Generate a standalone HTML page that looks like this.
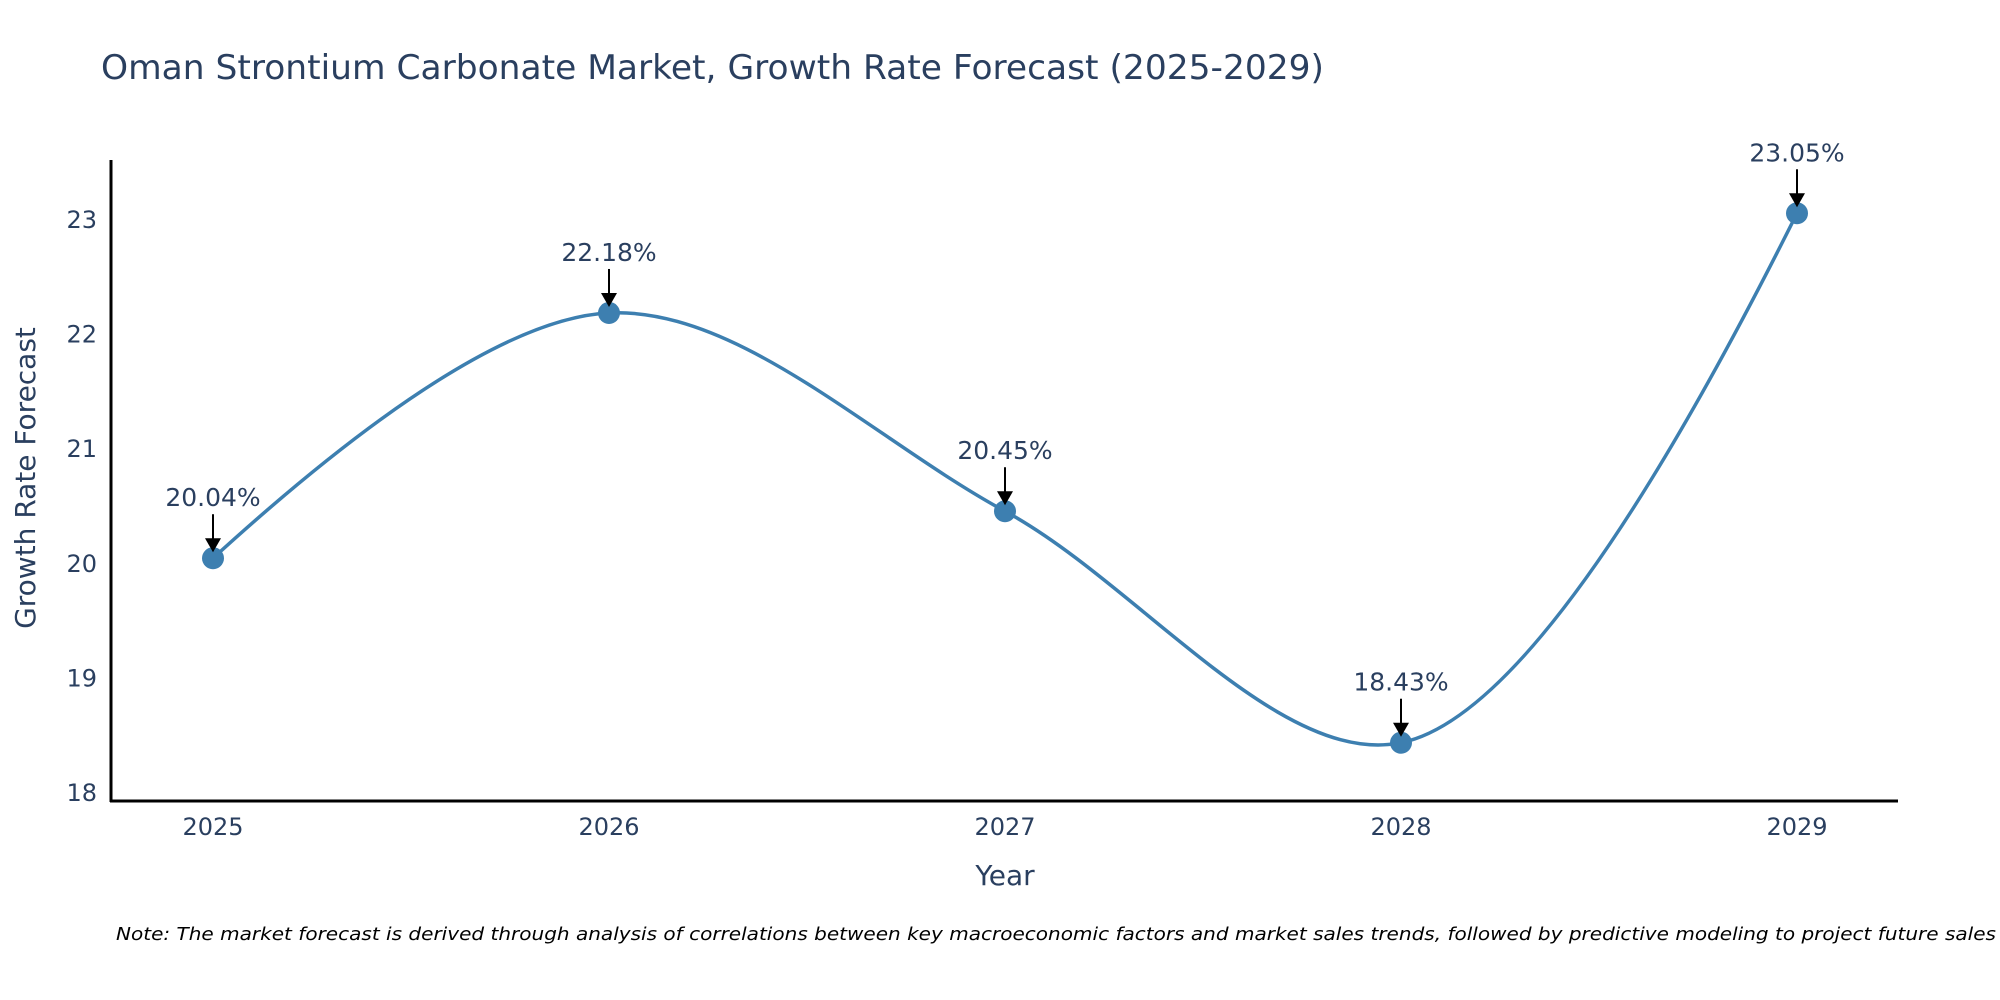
<!DOCTYPE html>
<html><head><meta charset="utf-8"><style>
html,body{margin:0;padding:0;background:#fff;}
svg{display:block;font-family:"DejaVu Sans","Liberation Sans",sans-serif;}
</style></head><body>
<svg id="chart" width="2000" height="1000" viewBox="0 0 2000 1000" xmlns="http://www.w3.org/2000/svg">
<text x="101" y="79" font-size="34" fill="#2a3f5f" textLength="1223" lengthAdjust="spacingAndGlyphs">Oman Strontium Carbonate Market, Growth Rate Forecast (2025-2029)</text>
<g id="yticks"></g>
<g id="xticks"></g>
<line x1="111" y1="160" x2="111" y2="802" stroke="#000" stroke-width="3"/>
<line x1="110" y1="801" x2="1898" y2="801" stroke="#000" stroke-width="3"/>
<text x="1005" y="885" font-size="28" fill="#2a3f5f" text-anchor="middle">Year</text>
<text x="0" y="0" font-size="28" fill="#2a3f5f" text-anchor="middle" transform="translate(35,478) rotate(-90)">Growth Rate Forecast</text>
<path id="line" fill="none" stroke="#3d7fb0" stroke-width="3.5"/>
<g id="marks"></g>
<text x="116" y="940" font-size="18" font-style="italic" fill="#000" textLength="1880" lengthAdjust="spacingAndGlyphs">Note: The market forecast is derived through analysis of correlations between key macroeconomic factors and market sales trends, followed by predictive modeling to project future sales</text>
</svg>
<script>
const years = [2025, 2026, 2027, 2028, 2029];
const growth = [20.04, 22.18, 20.45, 18.43, 23.05];
const labels = ["20.04%", "22.18%", "20.45%", "18.43%", "23.05%"];
const yTicks = [18, 19, 20, 21, 22, 23];

const NS = "http://www.w3.org/2000/svg";
function xs(v){ return 213 + (v - 2025) * 396; }
function ys(v){ return 792 - (v - 18) * 114.6; }
function mk(tag, attrs, parent){ const e=document.createElementNS(NS,tag); for(const k in attrs) e.setAttribute(k,attrs[k]); parent.appendChild(e); return e; }

const yg=document.getElementById('yticks');
yTicks.forEach(t=>{
  const e=mk('text',{x:97,y:ys(t)+9,'font-size':24,fill:'#2a3f5f','text-anchor':'end'},yg);
  e.textContent=t;
  
  
});
const xg=document.getElementById('xticks');
years.forEach(y=>{
  const e=mk('text',{x:xs(y),y:835,'font-size':24,fill:'#2a3f5f','text-anchor':'middle'},xg);
  e.textContent=y;
  
  
});

const pts = years.map((y,i)=>[xs(y), ys(growth[i])]);
function tangent(p,t,n,s){
  const d1x=p[0]-t[0],d1y=p[1]-t[1],d2x=n[0]-t[0],d2y=n[1]-t[1];
  const d1a=Math.pow(d1x*d1x+d1y*d1y,0.25),d2a=Math.pow(d2x*d2x+d2y*d2y,0.25);
  const nx=(d2a*d2a*d1x-d1a*d1a*d2x)*s,ny=(d2a*d2a*d1y-d1a*d1a*d2y)*s;
  const a=3*d2a*(d1a+d2a),b=3*d1a*(d1a+d2a);
  return [[t[0]+nx/a,t[1]+ny/a],[t[0]-nx/b,t[1]-ny/b]];
}
const tg=[];
for(let i=1;i<pts.length-1;i++) tg.push(tangent(pts[i-1],pts[i],pts[i+1],1));
let d='M'+pts[0]+'Q'+tg[0][0]+' '+pts[1];
for(let i=2;i<pts.length-1;i++) d+='C'+tg[i-2][1]+' '+tg[i-1][0]+' '+pts[i];
d+='Q'+tg[pts.length-3][1]+' '+pts[pts.length-1];
document.getElementById('line').setAttribute('d',d);

const mg=document.getElementById('marks');
pts.forEach((p,i)=>{
  const c=mk('circle',{cx:p[0],cy:p[1],r:11,fill:'#3d7fb0'},mg);
  
  
  const l=mk('line',{x1:p[0],y1:p[1]-44,x2:p[0],y2:p[1]-18,stroke:'#000','stroke-width':2},mg);
  
  
  const h=mk('path',{d:`M${p[0]-8},${p[1]-20} L${p[0]+8},${p[1]-20} L${p[0]},${p[1]-6} Z`,fill:'#000'},mg);
  
  
  const t=mk('text',{x:p[0],y:p[1]-52,'font-size':25,fill:'#2a3f5f','text-anchor':'middle'},mg);
  t.textContent=labels[i];
  
  
});
</script>
</body></html>
